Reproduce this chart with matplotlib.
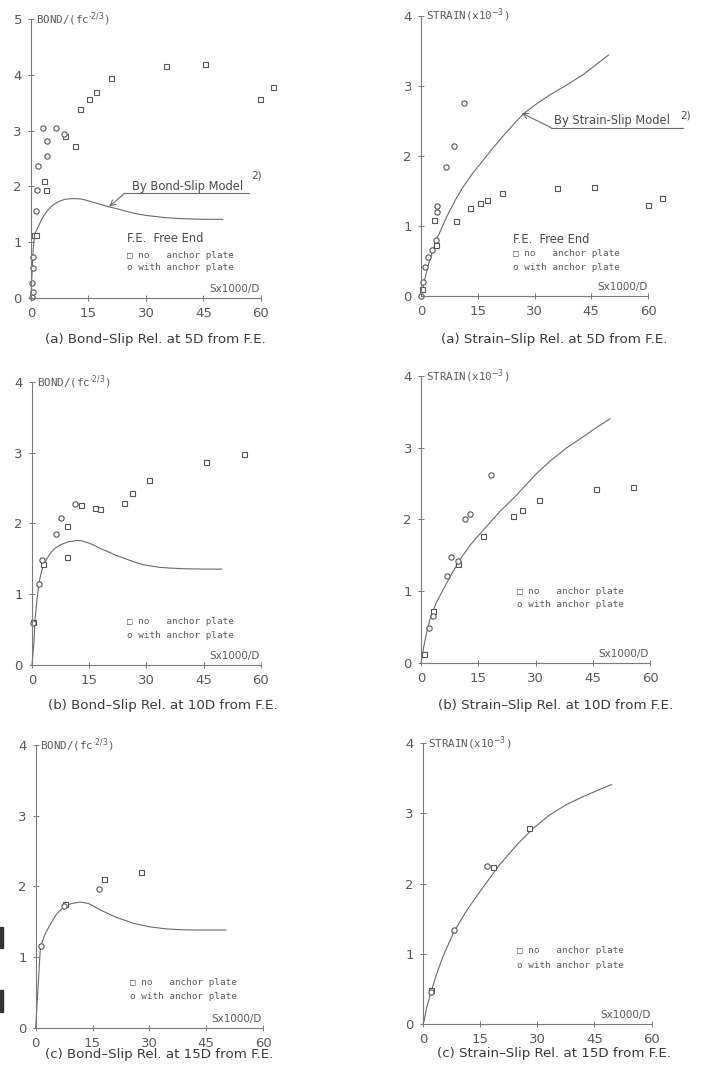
import matplotlib.pyplot as plt
from matplotlib.patches import Rectangle

LINE = "#6a6a6a"
TEXT = "#4a4a4a"
X_TICKS = [0, 15, 30, 45, 60]

# (a) 5D from F.E. - bond
bond5_no_x = [0.9, 1.3, 3.5, 3.9, 9.0, 11.4, 12.8, 15.2, 17.0, 20.9, 35.2, 45.4, 59.7, 63.2]
bond5_no_y = [1.13, 1.13, 2.10, 1.94, 2.91, 2.73, 3.39, 3.57, 3.70, 3.95, 4.16, 4.19, 3.57, 3.78]
bond5_with_x = [0.2, 0.3, 0.4, 0.4, 0.6, 1.2, 1.6, 1.9, 3.1, 4.1, 4.3, 6.5, 8.6]
bond5_with_y = [0.02, 0.26, 0.11, 0.73, 0.53, 1.56, 1.94, 2.37, 3.04, 2.54, 2.82, 3.04, 2.94]
bond5_model_x = [0, 0.3, 0.6, 0.9, 1.2, 1.5, 2.0, 2.5, 3.2, 4.0, 5.0, 5.8, 7.0, 8.0, 9.0,
                 10.5, 12.0, 13.5, 15.0, 16.5, 18.0, 20.5, 23.0, 25.0, 27.5, 30.0, 32.5,
                 35.0, 37.5, 40.0, 42.5, 45.0, 47.5, 50.0]
bond5_model_y = [0, 0.5, 0.9, 1.12, 1.18, 1.22, 1.29, 1.37, 1.46, 1.54, 1.62, 1.67, 1.72,
                 1.75, 1.77, 1.78, 1.78, 1.77, 1.74, 1.71, 1.68, 1.63, 1.59, 1.55, 1.51,
                 1.48, 1.46, 1.44, 1.43, 1.42, 1.415, 1.41, 1.41, 1.41]

# (a) 5D from F.E. - strain
strain5_no_x = [0.2, 3.3, 4.0, 9.2, 13.0, 15.6, 17.4, 21.3, 35.9, 45.8, 60.1, 63.6]
strain5_no_y = [0.10, 1.08, 0.72, 1.07, 1.25, 1.33, 1.37, 1.47, 1.54, 1.56, 1.30, 1.39]
strain5_with_x = [0.0, 0.4, 1.1, 1.9, 2.8, 4.0, 4.3, 4.3, 6.7, 8.6, 11.3]
strain5_with_y = [0.0, 0.20, 0.41, 0.56, 0.65, 0.79, 1.20, 1.28, 1.84, 2.14, 2.75]
strain5_model_x = [0, 1.0, 2.0, 3.0, 4.1, 5.5, 6.8, 9.0, 11.2, 13.8, 16.5, 19.0, 22.0,
                   24.5, 27.1, 30.5, 34.1, 38.5, 42.9, 46.0, 49.6]
strain5_model_y = [0, 0.24, 0.45, 0.63, 0.80, 0.97, 1.13, 1.36, 1.56, 1.76, 1.94, 2.11,
                   2.30, 2.45, 2.60, 2.74, 2.87, 3.01, 3.16, 3.29, 3.44]

# (b) 10D from F.E. - bond
bond10_no_x = [0.4, 2.8, 9.3, 9.3, 12.8, 16.4, 17.9, 24.2, 26.2, 30.7, 45.5, 55.6]
bond10_no_y = [0.61, 1.43, 1.96, 1.53, 2.26, 2.22, 2.20, 2.29, 2.43, 2.62, 2.87, 2.98]
bond10_with_x = [0.3, 1.8, 2.7, 6.2, 7.5, 11.4]
bond10_with_y = [0.59, 1.15, 1.49, 1.85, 2.08, 2.28]
bond10_model_x = [0, 0.5, 0.8, 1.3, 1.8, 2.4, 3.0, 4.0, 5.0, 6.0, 7.5, 9.5, 11.7, 13.0,
                  14.5, 16.0, 17.8, 20.0, 22.0, 24.0, 26.6, 29.0, 31.0, 33.5, 36.0, 40.0,
                  45.0, 49.7]
bond10_model_y = [0, 0.3, 0.64, 0.92, 1.15, 1.30, 1.41, 1.51, 1.59, 1.65, 1.70, 1.74,
                  1.76, 1.755, 1.73, 1.70, 1.65, 1.60, 1.55, 1.51, 1.46, 1.42, 1.40,
                  1.38, 1.37, 1.36, 1.355, 1.355]

# (b) 10D from F.E. - strain
strain10_no_x = [0.8, 3.1, 9.6, 16.3, 24.2, 26.4, 30.9, 45.9, 55.6]
strain10_no_y = [0.13, 0.72, 1.38, 1.77, 2.05, 2.13, 2.27, 2.42, 2.45]
strain10_with_x = [2.1, 3.1, 6.7, 7.8, 9.6, 11.5, 12.8, 18.3]
strain10_with_y = [0.48, 0.66, 1.21, 1.48, 1.42, 2.01, 2.08, 2.62]
strain10_model_x = [0, 0.8, 1.5, 2.4, 4.0, 5.9, 8.0, 10.2, 13.0, 16.3, 18.5, 20.5, 23.0,
                    25.1, 27.5, 30.3, 34.0, 38.0, 42.5, 46.0, 49.5]
strain10_model_y = [0, 0.25, 0.43, 0.62, 0.84, 1.03, 1.24, 1.44, 1.65, 1.85, 1.98, 2.10,
                    2.23, 2.34, 2.48, 2.64, 2.82, 2.99, 3.15, 3.28, 3.40]

# (c) 15D from F.E. - bond
bond15_no_x = [7.8, 18.1, 27.7]
bond15_no_y = [1.75, 2.10, 2.20]
bond15_with_x = [1.5, 7.4, 16.6]
bond15_with_y = [1.16, 1.72, 1.97]
bond15_model_x = [0, 0.6, 1.2, 1.6, 2.5, 3.8, 5.5, 7.6, 9.5, 11.7, 14.0, 17.0, 21.0,
                  25.8, 30.0, 34.6, 38.0, 42.0, 46.0, 50.2]
bond15_model_y = [0, 0.55, 1.1, 1.2, 1.33, 1.46, 1.61, 1.72, 1.76, 1.78, 1.76, 1.67,
                  1.57, 1.48, 1.43, 1.40, 1.39, 1.385, 1.385, 1.385]

# (c) 15D from F.E. - strain
strain15_no_x = [2.2, 18.3, 27.7]
strain15_no_y = [0.49, 2.23, 2.79]
strain15_with_x = [2.0, 8.1, 16.7]
strain15_with_y = [0.45, 1.34, 2.25]
strain15_model_x = [0, 0.3, 1.0, 1.8, 3.5, 5.3, 8.1, 11.5, 15.8, 20.0, 24.6, 29.0, 33.3,
                    37.5, 42.1, 46.0, 49.5]
strain15_model_y = [0, 0.05, 0.24, 0.40, 0.70, 0.97, 1.31, 1.62, 1.95, 2.26, 2.55, 2.79,
                    2.98, 3.12, 3.24, 3.33, 3.41]

BOND_LABEL = "BOND/(fc$^{\\cdot 2/3}$)"
STRAIN_LABEL = "STRAIN(x10$^{-3}$)"


def style_axes(ax, ymax, ylabel):
    ax.set_xlim(0, 60)
    ax.set_ylim(0, ymax)
    for side in ("top", "right"):
        ax.spines[side].set_visible(False)
    for side in ("left", "bottom"):
        ax.spines[side].set_color("#7a7a7a")
        ax.spines[side].set_linewidth(0.8)
    ax.set_xticks(X_TICKS)
    ax.set_yticks(range(0, ymax + 1))
    ax.tick_params(direction="inout", length=5, width=0.7, color="#7a7a7a",
                   labelsize=9.5, labelcolor="#5a5a5a", pad=4)
    ax.patch.set_alpha(0)
    ax.text(1.2, ymax, ylabel, fontsize=7.8, family="DejaVu Sans Mono",
            color="#5a5a5a", va="center", ha="left")
    ax.text(46.5, 0.06 * ymax / 4, "Sx1000/D", fontsize=7.5, color="#5a5a5a",
            va="bottom", ha="left")


def draw_data(ax, no_x, no_y, with_x, with_y, model_x, model_y):
    ax.plot(model_x, model_y, color=LINE, lw=0.8, clip_on=False)
    ax.plot(no_x, no_y, ls="none", marker="s", ms=3.6, mfc="white",
            mec="#555555", mew=0.8, clip_on=False)
    ax.plot(with_x, with_y, ls="none", marker="o", ms=3.8, mfc="white",
            mec="#555555", mew=0.8, clip_on=False)


def draw_key(ax, x, y_no, y_with, y_fe=None):
    if y_fe is not None:
        ax.text(x, y_fe, "F.E.  Free End", fontsize=8.3, color=TEXT, va="center")
    ax.text(x, y_no, "\u25a1 no   anchor plate", fontsize=6.7,
            family="DejaVu Sans Mono", color="#5a5a5a", va="center")
    ax.text(x, y_with, "o with anchor plate", fontsize=6.7,
            family="DejaVu Sans Mono", color="#5a5a5a", va="center")


def draw_model_note(ax, text, tip, start, end_x, text_xy, sup_xy):
    ax.annotate("", xy=tip, xytext=start,
                arrowprops=dict(arrowstyle="->", color=LINE, lw=0.8,
                                shrinkA=0, shrinkB=0))
    ax.plot([start[0], end_x], [start[1], start[1]], color=LINE, lw=0.8,
            clip_on=False)
    ax.text(text_xy[0], text_xy[1], text, fontsize=8.3, color=TEXT, va="center")
    ax.text(sup_xy[0], sup_xy[1], "2)", fontsize=7.5, color=TEXT, va="center")


fig = plt.figure(figsize=(7.01, 10.75), dpi=100)

ax1 = fig.add_axes([0.0442, 0.7228, 0.3281, 0.2595])
style_axes(ax1, 5, BOND_LABEL)
draw_data(ax1, bond5_no_x, bond5_no_y, bond5_with_x, bond5_with_y,
          bond5_model_x, bond5_model_y)
draw_key(ax1, 25.1, 0.77, 0.54, 1.06)
draw_model_note(ax1, "By Bond-Slip Model", (20.4, 1.64), (24.5, 1.88), 56.9,
                (26.4, 2.0), (57.4, 2.2))

ax2 = fig.add_axes([0.6006, 0.7249, 0.3238, 0.2605])
style_axes(ax2, 4, STRAIN_LABEL)
draw_data(ax2, strain5_no_x, strain5_no_y, strain5_with_x, strain5_with_y,
          strain5_model_x, strain5_model_y)
draw_key(ax2, 24.3, 0.61, 0.40, 0.81)
draw_model_note(ax2, "By Strain-Slip Model", (26.6, 2.61), (34.4, 2.40), 69.3,
                (35.2, 2.50), (68.5, 2.57))

ax3 = fig.add_axes([0.0456, 0.3814, 0.3267, 0.2633])
style_axes(ax3, 4, BOND_LABEL)
draw_data(ax3, bond10_no_x, bond10_no_y, bond10_with_x, bond10_with_y,
          bond10_model_x, bond10_model_y)
draw_key(ax3, 24.9, 0.62, 0.42)

ax4 = fig.add_axes([0.6006, 0.3833, 0.3267, 0.2672])
style_axes(ax4, 4, STRAIN_LABEL)
draw_data(ax4, strain10_no_x, strain10_no_y, strain10_with_x, strain10_with_y,
          strain10_model_x, strain10_model_y)
draw_key(ax4, 25.1, 1.0, 0.81)

ax5 = fig.add_axes([0.0509, 0.0437, 0.3243, 0.2633])
style_axes(ax5, 4, BOND_LABEL)
draw_data(ax5, bond15_no_x, bond15_no_y, bond15_with_x, bond15_with_y,
          bond15_model_x, bond15_model_y)
draw_key(ax5, 24.9, 0.64, 0.44)

ax6 = fig.add_axes([0.6034, 0.0474, 0.3262, 0.2614])
style_axes(ax6, 4, STRAIN_LABEL)
draw_data(ax6, strain15_no_x, strain15_no_y, strain15_with_x, strain15_with_y,
          strain15_model_x, strain15_model_y)
draw_key(ax6, 24.7, 1.04, 0.83)

captions = [
    (0.222, 0.684, "(a) Bond\u2013Slip Rel. at 5D from F.E."),
    (0.790, 0.684, "(a) Strain\u2013Slip Rel. at 5D from F.E."),
    (0.232, 0.344, "(b) Bond\u2013Slip Rel. at 10D from F.E."),
    (0.792, 0.344, "(b) Strain\u2013Slip Rel. at 10D from F.E."),
    (0.227, 0.019, "(c) Bond\u2013Slip Rel. at 15D from F.E."),
    (0.790, 0.020, "(c) Strain\u2013Slip Rel. at 15D from F.E."),
]
for cx, cy, text in captions:
    fig.text(cx, cy, text, fontsize=9.6, color="#3a3a3a", ha="center", va="center")

# scan marks at the left page edge
for y0, h in [(927, 21), (990, 22)]:
    fig.patches.append(Rectangle((0, 1 - (y0 + h) / 1075), 3 / 701, h / 1075,
                                 transform=fig.transFigure, color="#333333"))

fig.savefig("out.png", dpi=100)
